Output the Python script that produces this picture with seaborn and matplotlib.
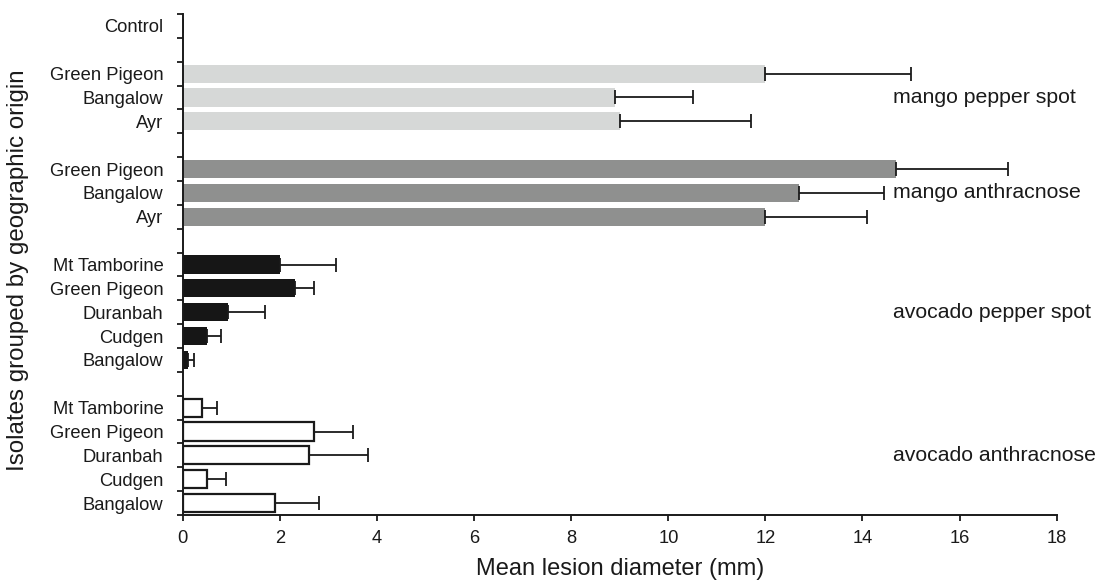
import numpy as np
import pandas as pd
import matplotlib
matplotlib.use("Agg")
import matplotlib.pyplot as plt
import seaborn as sns

# Data (mean lesion diameter, mm, and +SE)
groups = ["control", "mango pepper spot", "mango anthracnose",
          "avocado pepper spot", "avocado anthracnose"]
control_isolates = ["Control"]
control_means = [0.0]
control_err = [0.0]

mango_ps_isolates = ["Green Pigeon", "Bangalow", "Ayr"]
mango_ps_means = [12.0, 8.9, 9.0]
mango_ps_err = [3.0, 1.6, 2.7]

mango_an_isolates = ["Green Pigeon", "Bangalow", "Ayr"]
mango_an_means = [14.7, 12.7, 12.0]
mango_an_err = [2.3, 1.75, 2.1]

avo_ps_isolates = ["Mt Tamborine", "Green Pigeon", "Duranbah", "Cudgen", "Bangalow"]
avo_ps_means = [2.0, 2.3, 0.93, 0.49, 0.1]
avo_ps_err = [1.15, 0.4, 0.76, 0.29, 0.12]

avo_an_isolates = ["Mt Tamborine", "Green Pigeon", "Duranbah", "Cudgen", "Bangalow"]
avo_an_means = [0.4, 2.7, 2.6, 0.5, 1.9]
avo_an_err = [0.31, 0.8, 1.22, 0.38, 0.91]

xticks = list(range(0, 19, 2))

blocks = [
    (groups[0], control_isolates, control_means, control_err),
    (groups[1], mango_ps_isolates, mango_ps_means, mango_ps_err),
    (groups[2], mango_an_isolates, mango_an_means, mango_an_err),
    (groups[3], avo_ps_isolates, avo_ps_means, avo_ps_err),
    (groups[4], avo_an_isolates, avo_an_means, avo_an_err),
]

# one row per isolate, with a blank row between groups
rows = []
row_labels = []
order = []
for gi, (g, iso, m, e) in enumerate(blocks):
    if gi > 0:
        order.append(f"gap{gi}")
        row_labels.append("")
    for name, mv, ev in zip(iso, m, e):
        key = f"r{len(order)}"
        order.append(key)
        row_labels.append(name)
        rows.append({"row": key, "group": g, "isolate": name, "mean": mv, "err": ev})
df = pd.DataFrame(rows)

styles = {
    "control": ("white", "none"),
    "mango pepper spot": ("#d6d8d7", "none"),
    "mango anthracnose": ("#8f908f", "none"),
    "avocado pepper spot": ("#161616", "none"),
    "avocado anthracnose": ("white", "#1a1a1a"),
}

sns.set_theme(style="white")
plt.rcParams["font.family"] = ["Liberation Sans", "DejaVu Sans"]

fig = plt.figure(figsize=(10.95, 5.82), dpi=100)
ax = fig.add_axes([0.167, 0.115, 0.798, 0.861])

for g in groups:
    sub = df[df["group"] == g]
    if sub["mean"].sum() == 0:
        continue
    fc, ec = styles[g]
    sns.barplot(data=sub, y="row", x="mean", order=order, orient="h",
                color=fc, edgecolor=ec, linewidth=1.6 if ec != "none" else 0,
                saturation=1, width=0.76, errorbar=None, ax=ax)

# one-sided error bars
pos = [order.index(r) for r in df["row"]]
ax.errorbar(df["mean"], pos, xerr=[np.zeros(len(df)), df["err"]],
            fmt="none", ecolor="#1a1a1a", elinewidth=1.3, capsize=5, capthick=1.3)

ax.set_xlim(0, 18)
ax.set_ylim(len(order) - 0.5, -0.5)
ax.set_xticks(xticks)
ax.set_yticks(range(len(order)))
ax.set_yticklabels(row_labels)
ax.set_yticks(np.arange(-0.5, len(order), 1.0), minor=True)
ax.tick_params(axis="y", which="major", length=0, pad=14, labelsize=13.2, colors="#1a1a1a")
ax.tick_params(axis="y", which="minor", length=4, width=1.3, direction="out", left=True, color="#1a1a1a")
ax.tick_params(axis="x", length=4, width=1.3, direction="out", bottom=True, labelsize=13.2,
               pad=7, colors="#1a1a1a")

sns.despine(ax=ax)
for s in ["left", "bottom"]:
    ax.spines[s].set_linewidth(1.4)
    ax.spines[s].set_color("#1a1a1a")

ax.set_xlabel("Mean lesion diameter (mm)", fontsize=17, color="#1a1a1a", labelpad=8)
ax.set_ylabel("Isolates grouped by geographic origin", fontsize=17.4, color="#1a1a1a")
ax.yaxis.set_label_coords(-0.176, 0.489)

# group labels beside the bars
label_rows = {"mango pepper spot": 3, "mango anthracnose": 7,
              "avocado pepper spot": 12, "avocado anthracnose": 18}
for g, r in label_rows.items():
    ax.text(14.62, r, g, fontsize=15.3, va="center", ha="left", color="#1a1a1a")

fig.savefig("out.png", dpi=100)
